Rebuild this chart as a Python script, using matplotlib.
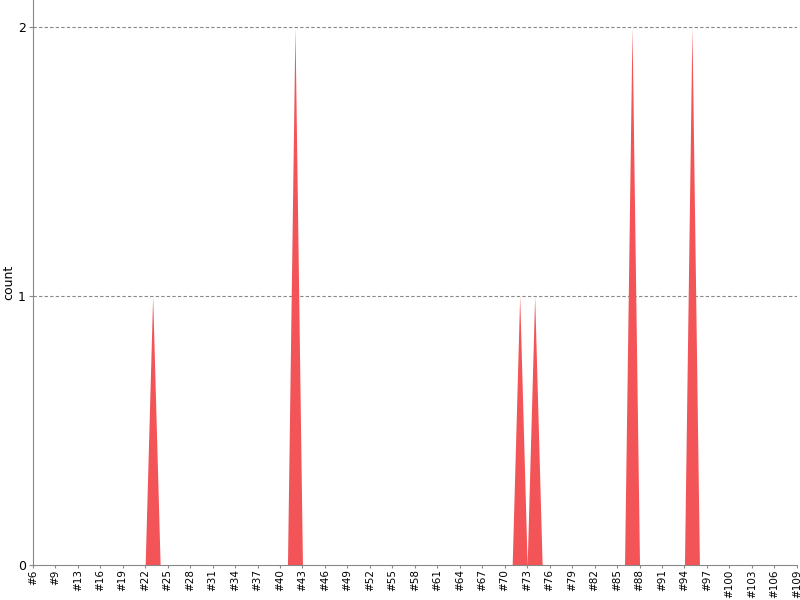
import numpy as np
import matplotlib
matplotlib.use("Agg")
import matplotlib.pyplot as plt

# category ids (one id missing between #9 and #13)
ids = [n for n in range(6, 110) if n != 11]
labels = ["#%d" % n for n in ids]
spikes = {23: 1, 42: 2, 72: 1, 74: 1, 87: 2, 95: 2}
counts = [spikes.get(n, 0) for n in ids]

x = np.arange(len(ids))
fig = plt.figure(figsize=(8, 6), dpi=100)
ax = fig.add_axes([0.041, 0.058, 0.955, 0.942])
ax.fill_between(x, counts, 0, color="#f25457", lw=0)

ax.set_xlim(0, len(ids) - 1)
ax.set_ylim(0, 2.1)
ax.set_xticks(x[::3])
ax.set_xticklabels(labels[::3], rotation=90, fontsize=7.5)
ax.set_yticks([0, 1, 2])
ax.set_yticklabels(["0", "1", "2"], fontsize=9)
ax.tick_params(axis="x", length=2, color="#888888", pad=1)
ax.tick_params(axis="y", length=3, color="#888888", pad=2)
ax.set_ylabel("count", fontsize=9, labelpad=2)
for y in [1, 2]:
    ax.axhline(y, color="#888888", lw=0.8, ls=(0, (3, 2)), zorder=0)
for s in ["top", "right"]:
    ax.spines[s].set_visible(False)
for s in ["left", "bottom"]:
    ax.spines[s].set_color("#888888")

fig.savefig("out.png")
